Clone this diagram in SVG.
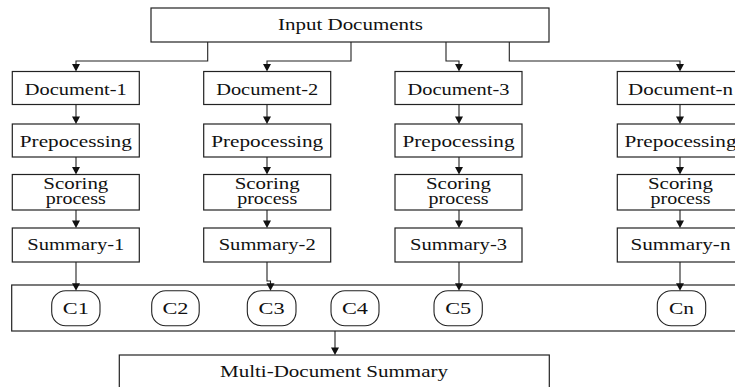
<svg xmlns="http://www.w3.org/2000/svg" width="735" height="387" viewBox="0 0 735 387">
<style>
.box{fill:#fff;stroke:#222;stroke-width:1.2}
.c{fill:#fff;stroke:#222;stroke-width:1.1}
.t{font-family:"Liberation Serif","Times New Roman",serif;font-size:16px;fill:#111;text-anchor:middle}
.ln{fill:none;stroke:#222;stroke-width:1.1}
.ah{fill:#111;stroke:none}
</style>
<defs>
<path id="ah" class="ah" d="M-4,-7.5 L4,-7.5 L0,0 Z"/>
</defs>
<rect x="0" y="0" width="735" height="387" fill="#fff"/>
<g id="input">
<rect class="box" x="151" y="8" width="398" height="34"/>
<text class="t" x="350.5" y="29.5" textLength="145" lengthAdjust="spacingAndGlyphs">Input Documents</text>
</g>
<g id="doc1"><rect class="box" x="12.3" y="71.5" width="127" height="33"/><text class="t" x="75.8" y="94.7" textLength="102" lengthAdjust="spacingAndGlyphs">Document-1</text></g>
<g id="doc2"><rect class="box" x="203.7" y="71.5" width="127" height="33"/><text class="t" x="267.2" y="94.7" textLength="102" lengthAdjust="spacingAndGlyphs">Document-2</text></g>
<g id="doc3"><rect class="box" x="395" y="71.5" width="127" height="33"/><text class="t" x="458.5" y="94.7" textLength="102" lengthAdjust="spacingAndGlyphs">Document-3</text></g>
<g id="docn"><rect class="box" x="617.3" y="71.5" width="127" height="33"/><text class="t" x="680.5" y="94.7" textLength="105" lengthAdjust="spacingAndGlyphs">Document-n</text></g>
<g id="pre1"><rect class="box" x="12.3" y="124" width="127" height="33"/><text class="t" x="75.8" y="146.5" textLength="112" lengthAdjust="spacingAndGlyphs">Prepocessing</text></g>
<g id="pre2"><rect class="box" x="203.7" y="124" width="127" height="33"/><text class="t" x="267.2" y="146.5" textLength="112" lengthAdjust="spacingAndGlyphs">Prepocessing</text></g>
<g id="pre3"><rect class="box" x="395" y="124" width="127" height="33"/><text class="t" x="458.5" y="146.5" textLength="112" lengthAdjust="spacingAndGlyphs">Prepocessing</text></g>
<g id="pren"><rect class="box" x="617.3" y="124" width="127" height="33"/><text class="t" x="680.5" y="146.5" textLength="112" lengthAdjust="spacingAndGlyphs">Prepocessing</text></g>
<g id="sc1"><rect class="box" x="12.3" y="174.5" width="127" height="35.5"/><text class="t" x="75.8" y="188.5" textLength="65" lengthAdjust="spacingAndGlyphs">Scoring</text><text class="t" x="75.8" y="204.3" textLength="60" lengthAdjust="spacingAndGlyphs">process</text></g>
<g id="sc2"><rect class="box" x="203.7" y="174.5" width="127" height="35.5"/><text class="t" x="267.2" y="188.5" textLength="65" lengthAdjust="spacingAndGlyphs">Scoring</text><text class="t" x="267.2" y="204.3" textLength="60" lengthAdjust="spacingAndGlyphs">process</text></g>
<g id="sc3"><rect class="box" x="395" y="174.5" width="127" height="35.5"/><text class="t" x="458.5" y="188.5" textLength="65" lengthAdjust="spacingAndGlyphs">Scoring</text><text class="t" x="458.5" y="204.3" textLength="60" lengthAdjust="spacingAndGlyphs">process</text></g>
<g id="scn"><rect class="box" x="617.3" y="174.5" width="127" height="35.5"/><text class="t" x="680.5" y="188.5" textLength="65" lengthAdjust="spacingAndGlyphs">Scoring</text><text class="t" x="680.5" y="204.3" textLength="60" lengthAdjust="spacingAndGlyphs">process</text></g>
<g id="sum1"><rect class="box" x="12.3" y="228" width="127" height="34"/><text class="t" x="75.8" y="250.3" textLength="97" lengthAdjust="spacingAndGlyphs">Summary-1</text></g>
<g id="sum2"><rect class="box" x="203.7" y="228" width="127" height="34"/><text class="t" x="267.2" y="250.3" textLength="97" lengthAdjust="spacingAndGlyphs">Summary-2</text></g>
<g id="sum3"><rect class="box" x="395" y="228" width="127" height="34"/><text class="t" x="458.5" y="250.3" textLength="97" lengthAdjust="spacingAndGlyphs">Summary-3</text></g>
<g id="sumn"><rect class="box" x="617.3" y="228" width="127" height="34"/><text class="t" x="680.5" y="250.3" textLength="100" lengthAdjust="spacingAndGlyphs">Summary-n</text></g>
<g id="clusters">
<rect class="box" x="11.7" y="285" width="730" height="46"/>
</g>
<g id="c1"><rect class="c" x="51.7" y="290.7" width="48.3" height="35" rx="14"/><text class="t" x="75.8" y="314.3" textLength="26" lengthAdjust="spacingAndGlyphs">C1</text></g>
<g id="c2"><rect class="c" x="151.7" y="290.7" width="47.5" height="35" rx="14"/><text class="t" x="175.4" y="314.3" textLength="26" lengthAdjust="spacingAndGlyphs">C2</text></g>
<g id="c3"><rect class="c" x="247.3" y="290.7" width="48.7" height="35" rx="14"/><text class="t" x="271.6" y="314.3" textLength="26" lengthAdjust="spacingAndGlyphs">C3</text></g>
<g id="c4"><rect class="c" x="331" y="290.7" width="48" height="35" rx="14"/><text class="t" x="355" y="314.3" textLength="26" lengthAdjust="spacingAndGlyphs">C4</text></g>
<g id="c5"><rect class="c" x="434" y="290.7" width="48.3" height="35" rx="14"/><text class="t" x="458.2" y="314.3" textLength="26" lengthAdjust="spacingAndGlyphs">C5</text></g>
<g id="cn"><rect class="c" x="657.3" y="290.7" width="48.4" height="35" rx="14"/><text class="t" x="681.5" y="314.3" textLength="25" lengthAdjust="spacingAndGlyphs">Cn</text></g>
<g id="multi">
<rect class="box" x="119.3" y="355" width="430" height="45"/>
<text class="t" x="334" y="376.7" textLength="228" lengthAdjust="spacingAndGlyphs">Multi-Document Summary</text>
</g>
<g id="connectors">
<path class="ln" d="M207.7,42 V61 H76 V66"/>
<path class="ln" d="M351,42 V61 H267 V66"/>
<path class="ln" d="M446,42 V61 H459 V66"/>
<path class="ln" d="M509.3,42 V61 H680 V66"/>
<path class="ln" d="M76,104.5 V118 M267,104.5 V118 M459,104.5 V118 M680,104.5 V118"/>
<path class="ln" d="M76,157 V168 M267,157 V168 M459,157 V168 M680,157 V168"/>
<path class="ln" d="M76,210 V222 M267,210 V222 M459,210 V222 M680,210 V222"/>
<path class="ln" d="M76,262 V285"/>
<path class="ln" d="M267,262 V281 H270.5 V285"/>
<path class="ln" d="M459,262 V285"/>
<path class="ln" d="M680,262 V285"/>
<path class="ln" d="M335,331 V349"/>
<use href="#ah" x="76" y="71.5"/><use href="#ah" x="267" y="71.5"/><use href="#ah" x="459" y="71.5"/><use href="#ah" x="680" y="71.5"/>
<use href="#ah" x="76" y="124"/><use href="#ah" x="267" y="124"/><use href="#ah" x="459" y="124"/><use href="#ah" x="680" y="124"/>
<use href="#ah" x="76" y="174.5"/><use href="#ah" x="267" y="174.5"/><use href="#ah" x="459" y="174.5"/><use href="#ah" x="680" y="174.5"/>
<use href="#ah" x="76" y="228"/><use href="#ah" x="267" y="228"/><use href="#ah" x="459" y="228"/><use href="#ah" x="680" y="228"/>
<use href="#ah" x="76" y="290.7"/><use href="#ah" x="270.5" y="290.7"/><use href="#ah" x="459" y="290.7"/><use href="#ah" x="680" y="290.7"/>
<use href="#ah" x="335" y="355"/>
</g>
</svg>
